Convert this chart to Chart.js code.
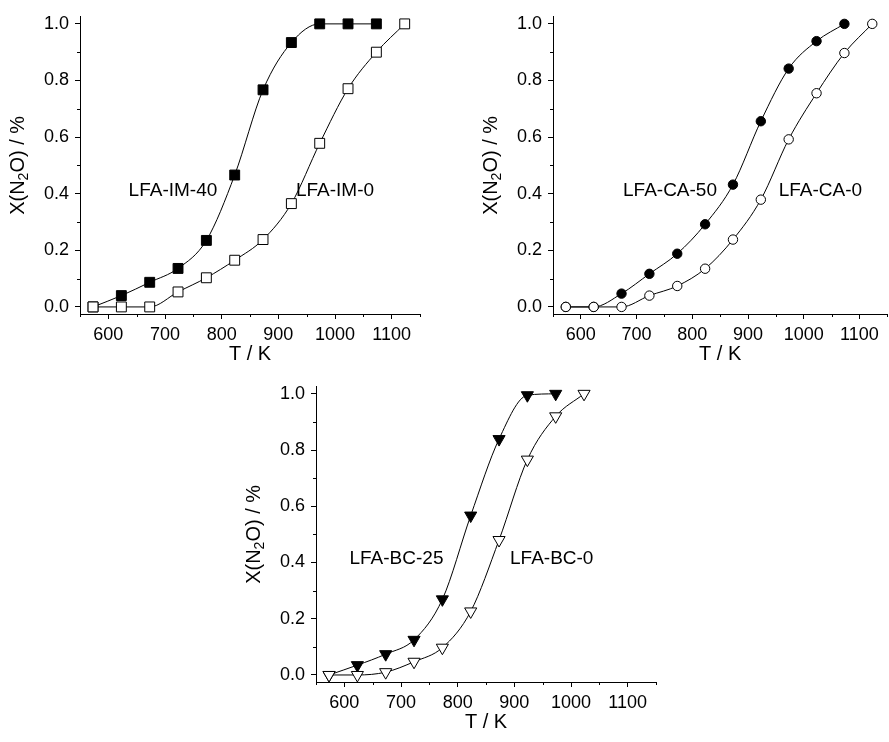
<!DOCTYPE html>
<html>
<head>
<meta charset="utf-8">
<script src="https://cdn.jsdelivr.net/npm/chart.js@4.4.0/dist/chart.umd.min.js"></script>
<style>
html, body { margin: 0; padding: 0; background: #fff; overflow: hidden; width: 889px; height: 742px; }
canvas { position: absolute; }
</style>
</head>
<body>
<canvas id="c1"></canvas>
<canvas id="c2"></canvas>
<canvas id="c3"></canvas>
<script>
// temperatures (K) shared by all series
const tempK = [573, 623, 673, 723, 773, 823, 873, 923, 973, 1023, 1073, 1123];

// conversion X(N2O)
const im40 = [0, 0.04, 0.087, 0.136, 0.235, 0.466, 0.767, 0.934, 1.0, 1.0, 1.0];
const im0  = [0, 0, 0, 0.053, 0.103, 0.165, 0.238, 0.365, 0.578, 0.771, 0.9, 1.0];
const ca50 = [0, 0, 0.047, 0.117, 0.188, 0.292, 0.432, 0.656, 0.842, 0.939, 1.0];
const ca0  = [0, 0, 0, 0.04, 0.074, 0.135, 0.238, 0.379, 0.592, 0.755, 0.897, 1.0];
const bc25 = [0, 0.035, 0.074, 0.125, 0.269, 0.567, 0.839, 0.995, 1.0];
const bc0  = [0, 0, 0.01, 0.047, 0.097, 0.226, 0.48, 0.766, 0.92, 1.0];

// axis ticks
const xMajor = [600, 700, 800, 900, 1000, 1100];
const xMinor = [550, 650, 750, 850, 950, 1050, 1150];
const yMajor = [0, 0.2, 0.4, 0.6, 0.8, 1.0];
const yMinor = [0.1, 0.3, 0.5, 0.7, 0.9];

const FONT = "'Liberation Sans', Arial, sans-serif";

function pts(vals) {
  return vals.map((v, i) => ({ x: tempK[i], y: v }));
}

function series(vals, shape, filled) {
  const tri = shape === 'triangle';
  return {
    data: pts(vals),
    borderColor: '#000',
    borderWidth: 1,
    cubicInterpolationMode: 'monotone',
    pointStyle: shape,
    pointRadius: shape === 'circle' ? 4.7 : 7,
    pointRotation: tri ? 180 : 0,
    pointBackgroundColor: filled ? '#000' : '#fff',
    pointBorderColor: '#000',
    pointBorderWidth: 1,
    clip: false
  };
}

// titles, sample names and minor ticks
function textPlugin(names) {
  return {
    id: 'panelText',
    afterDraw(chart) {
      const ctx = chart.ctx;
      const a = chart.chartArea;
      const xs = chart.scales.x, ys = chart.scales.y;
      ctx.save();
      ctx.strokeStyle = '#000';
      ctx.lineWidth = 1;
      ctx.beginPath();
      xMinor.forEach(v => {
        const px = Math.round(xs.getPixelForValue(v)) + 0.5;
        ctx.moveTo(px, a.bottom); ctx.lineTo(px, a.bottom + 3);
      });
      yMinor.forEach(v => {
        const py = Math.round(ys.getPixelForValue(v)) + 0.5;
        ctx.moveTo(a.left - 3, py); ctx.lineTo(a.left, py);
      });
      ctx.stroke();

      ctx.fillStyle = '#000';
      ctx.textAlign = 'center';
      ctx.textBaseline = 'middle';
      ctx.font = '19px ' + FONT;
      names.forEach(n => {
        ctx.fillText(n.text, xs.getPixelForValue(n.x), ys.getPixelForValue(n.y));
      });

      ctx.font = '20px ' + FONT;
      ctx.fillText('T / K', (a.left + a.right) / 2, a.bottom + 40);

      // X(N2O) / % rotated, with subscript
      const big = '20px ' + FONT, small = '14px ' + FONT;
      const parts = [['X(N', big, 0], ['2', small, 6], ['O) / %', big, 0]];
      let total = 0;
      parts.forEach(p => { ctx.font = p[1]; total += ctx.measureText(p[0]).width; });
      ctx.translate(a.left - 62, (a.top + a.bottom) / 2);
      ctx.rotate(-Math.PI / 2);
      ctx.textAlign = 'left';
      let x = -total / 2;
      parts.forEach(p => {
        ctx.font = p[1];
        ctx.fillText(p[0], x, p[2]);
        x += ctx.measureText(p[0]).width;
      });
      ctx.restore();
    }
  };
}

function makePanel(id, box, area, datasets, names) {
  const cv = document.getElementById(id);
  cv.width = box.w; cv.height = box.h;
  cv.style.left = box.left + 'px';
  cv.style.top = box.top + 'px';
  const tickFont = { family: FONT, size: 18 };
  new Chart(cv, {
    type: 'line',
    data: { datasets: datasets },
    options: {
      responsive: false,
      animation: false,
      layout: { padding: { left: 0, bottom: 0, top: area.top - box.top, right: box.left + box.w - area.right } },
      plugins: { legend: { display: false }, tooltip: { enabled: false } },
      scales: {
        x: {
          type: 'linear', min: 550, max: 1150,
          afterBuildTicks: s => { s.ticks = xMajor.map(v => ({ value: v })); },
          afterFit: s => { s.height = box.top + box.h - area.bottom; },
          grid: { drawOnChartArea: false, tickLength: 5, tickColor: '#000', tickWidth: 1 },
          border: { color: '#000', width: 1 },
          ticks: { autoSkip: false, maxRotation: 0, color: '#000', font: tickFont, padding: 5,
                   callback: v => String(v) }
        },
        y: {
          type: 'linear', min: -0.025, max: 1.025,
          afterBuildTicks: s => { s.ticks = yMajor.map(v => ({ value: v })); },
          afterFit: s => { s.width = area.left - box.left; },
          grid: { drawOnChartArea: false, tickLength: 5, tickColor: '#000', tickWidth: 1 },
          border: { color: '#000', width: 1 },
          ticks: { autoSkip: false, color: '#000', font: tickFont, padding: 6,
                   callback: v => v.toFixed(1) }
        }
      }
    },
    plugins: [textPlugin(names)]
  });
}

makePanel('c1', { left: 0, top: 0, w: 445, h: 370 }, { left: 80, top: 15, right: 420, bottom: 314 },
  [series(im0, 'rect', false), series(im40, 'rect', true)],
  [{ text: 'LFA-IM-40', x: 714, y: 0.41 }, { text: 'LFA-IM-0', x: 1000, y: 0.41 }]);

makePanel('c2', { left: 445, top: 0, w: 448, h: 370 }, { left: 553, top: 15, right: 893, bottom: 314 },
  [series(ca0, 'circle', false), series(ca50, 'circle', true)],
  [{ text: 'LFA-CA-50', x: 760, y: 0.41 }, { text: 'LFA-CA-0', x: 1030, y: 0.41 }]);

makePanel('c3', { left: 230, top: 370, w: 460, h: 372 }, { left: 316, top: 383, right: 656, bottom: 682 },
  [series(bc0, 'triangle', false), series(bc25, 'triangle', true)],
  [{ text: 'LFA-BC-25', x: 692, y: 0.414 }, { text: 'LFA-BC-0', x: 966, y: 0.414 }]);
</script>
</body>
</html>
